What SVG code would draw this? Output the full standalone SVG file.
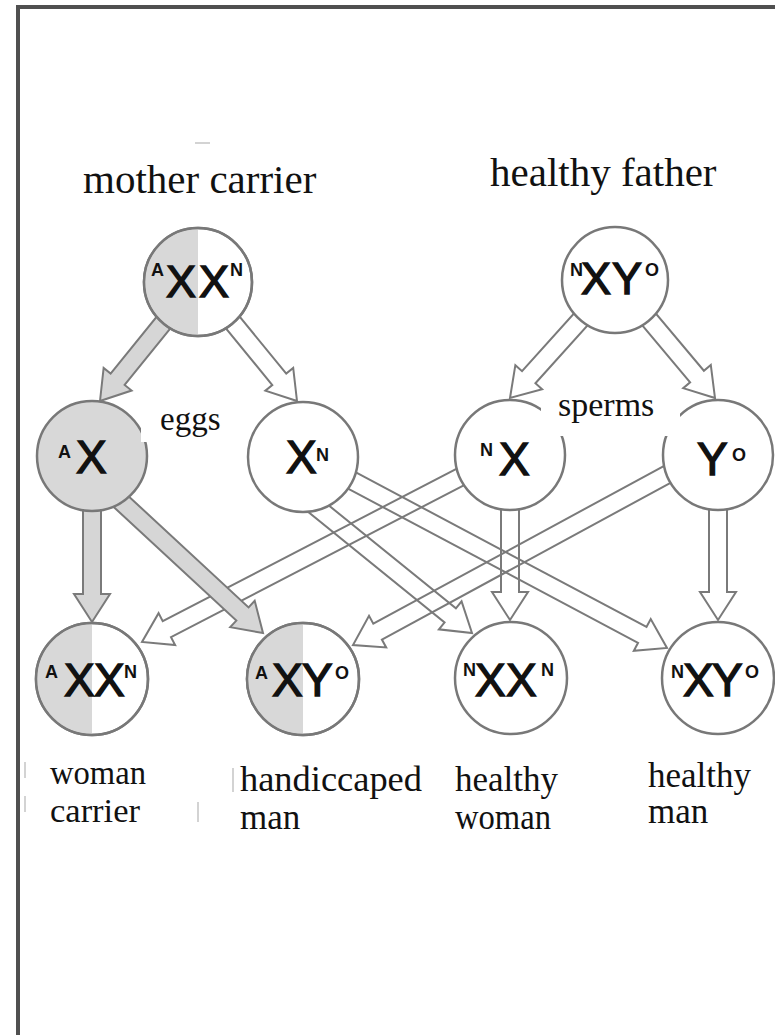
<svg xmlns="http://www.w3.org/2000/svg" width="775" height="1035" viewBox="0 0 775 1035">
<style>
.node{stroke:#787878;stroke-width:2.5;fill:#fff}
.gray{fill:#d8d8d8}
.arw{stroke:#7a7a7a;stroke-width:2;stroke-linejoin:miter;fill:none}
.arwg{stroke:#7a7a7a;stroke-width:2;fill:#d6d6d6}
.big{font-family:"Liberation Sans",Arial,sans-serif;fill:#111;stroke:#111;stroke-width:1.4}
.sup{font-family:"Liberation Sans",Arial,sans-serif;font-weight:bold;font-size:18px;fill:#111}
.lbl{font-family:"Liberation Serif","Times New Roman",serif;fill:#111}
.art{stroke:#c4c4c4;stroke-width:1.5}
</style>
<rect x="0" y="0" width="775" height="1035" fill="#fff"/>
<g id="frame">
<rect x="16" y="5" width="759" height="4" fill="#505050"/>
<rect x="16" y="5" width="4" height="1030" fill="#505050"/>
</g>
<g id="connectors">
<polygon class="arw" transform="translate(297,401) rotate(50.7)" points="-150,-9 -28,-9 -28,-18 0,0 -28,18 -28,9 -150,9"/>
<polygon class="arw" transform="translate(510,398) rotate(132)" points="-150,-9 -28,-9 -28,-18 0,0 -28,18 -28,9 -150,9"/>
<polygon class="arw" transform="translate(715,398) rotate(50)" points="-150,-9 -28,-9 -28,-18 0,0 -28,18 -28,9 -150,9"/>
<polygon class="arw" transform="translate(472,633) rotate(39)" points="-220,-9 -28,-9 -28,-18 0,0 -28,18 -28,9 -220,9"/>
<polygon class="arw" transform="translate(667,648) rotate(28)" points="-380,-9 -28,-9 -28,-18 0,0 -28,18 -28,9 -380,9"/>
<polygon class="arw" transform="translate(142,642) rotate(152.6)" points="-380,-9 -28,-9 -28,-18 0,0 -28,18 -28,9 -380,9"/>
<polygon class="arw" transform="translate(510,620) rotate(90)" points="-160,-9 -28,-9 -28,-18 0,0 -28,18 -28,9 -160,9"/>
<polygon class="arw" transform="translate(353,645) rotate(151.5)" points="-380,-9 -28,-9 -28,-18 0,0 -28,18 -28,9 -380,9"/>
<polygon class="arw" transform="translate(718,620) rotate(90)" points="-160,-9 -28,-9 -28,-18 0,0 -28,18 -28,9 -160,9"/>
<polygon class="arwg" transform="translate(100,401) rotate(129)" points="-150,-9 -28,-9 -28,-18 0,0 -28,18 -28,9 -150,9"/>
<polygon class="arwg" transform="translate(92,622) rotate(90)" points="-160,-9 -28,-9 -28,-18 0,0 -28,18 -28,9 -160,9"/>
<polygon class="arwg" transform="translate(263,633) rotate(42.8)" points="-220,-9 -28,-9 -28,-18 0,0 -28,18 -28,9 -220,9"/>
</g>
<g id="mother">
<circle class="node" cx="198" cy="282" r="54"/>
<path class="gray" d="M198,229 A53,53 0 0 0 198,335 Z"/>
<circle cx="198" cy="282" r="54" fill="none" stroke="#787878" stroke-width="2.5"/>
<text><tspan class="sup" x="151" y="276">A</tspan><tspan class="big" font-size="45" x="166" y="297">X</tspan><tspan class="big" font-size="45" x="199" y="297">X</tspan><tspan class="sup" x="230" y="276">N</tspan></text>
</g>
<g id="father">
<circle class="node" cx="615" cy="280" r="53"/>
<text><tspan class="sup" x="570" y="276">N</tspan><tspan class="big" font-size="45" x="581" y="294">X</tspan><tspan class="big" font-size="45" x="612" y="294">Y</tspan><tspan class="sup" x="645" y="276">O</tspan></text>
</g>
<g id="egg-AX">
<circle class="node" cx="92" cy="456" r="55" style="fill:#d8d8d8"/>
<text><tspan class="sup" x="58" y="458">A</tspan><tspan class="big" font-size="46" x="76" y="473">X</tspan></text>
</g>
<g id="egg-XN">
<circle class="node" cx="303" cy="457" r="55"/>
<text><tspan class="big" font-size="46" x="286" y="473">X</tspan><tspan class="sup" x="316" y="461">N</tspan></text>
</g>
<g id="sperm-NX">
<circle class="node" cx="510" cy="455" r="55"/>
<text><tspan class="sup" x="480" y="456">N</tspan><tspan class="big" font-size="46" x="499" y="475">X</tspan></text>
</g>
<g id="sperm-YO">
<circle class="node" cx="718" cy="455" r="55"/>
<text><tspan class="big" font-size="46" x="697" y="475">Y</tspan><tspan class="sup" x="732" y="461">O</tspan></text>
</g>
<g id="child-AXXN">
<circle class="node" cx="92" cy="679" r="56"/>
<path class="gray" d="M92,624 A55,55 0 0 0 92,734 Z"/>
<circle cx="92" cy="679" r="56" fill="none" stroke="#787878" stroke-width="2.5"/>
<text><tspan class="sup" x="45" y="678">A</tspan><tspan class="big" font-size="46" x="64" y="696">X</tspan><tspan class="big" font-size="46" x="94" y="696">X</tspan><tspan class="sup" x="124" y="678">N</tspan></text>
</g>
<g id="child-AXYO">
<circle class="node" cx="303" cy="679" r="56"/>
<path class="gray" d="M303,624 A55,55 0 0 0 303,734 Z"/>
<circle cx="303" cy="679" r="56" fill="none" stroke="#787878" stroke-width="2.5"/>
<text><tspan class="sup" x="255" y="679">A</tspan><tspan class="big" font-size="46" x="272" y="696">X</tspan><tspan class="big" font-size="46" x="302" y="696">Y</tspan><tspan class="sup" x="335" y="679">O</tspan></text>
</g>
<g id="child-NXXN">
<circle class="node" cx="511" cy="678" r="56"/>
<text><tspan class="sup" x="463" y="676">N</tspan><tspan class="big" font-size="46" x="475" y="696">X</tspan><tspan class="big" font-size="46" x="506" y="696">X</tspan><tspan class="sup" x="541" y="676">N</tspan></text>
</g>
<g id="child-NXYO">
<circle class="node" cx="718" cy="678" r="56"/>
<text><tspan class="sup" x="671" y="678">N</tspan><tspan class="big" font-size="46" x="683" y="696">X</tspan><tspan class="big" font-size="46" x="712" y="696">Y</tspan><tspan class="sup" x="745" y="678">O</tspan></text>
</g>
<g id="labels">
<rect x="141" y="385" width="87" height="57" fill="#fff"/>
<rect x="541" y="392" width="139" height="44" fill="#fff"/>
<text class="lbl" font-size="41" x="83" y="193">mother carrier</text>
<text class="lbl" font-size="41" x="490" y="186">healthy father</text>
<text class="lbl" font-size="33" x="160" y="430">eggs</text>
<text class="lbl" font-size="34" x="558" y="416">sperms</text>
<text class="lbl" font-size="34" x="50" y="784" textLength="96" lengthAdjust="spacingAndGlyphs">woman</text>
<text class="lbl" font-size="34" x="50" y="822" textLength="90" lengthAdjust="spacingAndGlyphs">carrier</text>
<text class="lbl" font-size="35" x="240" y="791" textLength="182" lengthAdjust="spacingAndGlyphs">handiccaped</text>
<text class="lbl" font-size="35" x="240" y="829">man</text>
<text class="lbl" font-size="35" x="455" y="791">healthy</text>
<text class="lbl" font-size="35" x="455" y="829" textLength="96" lengthAdjust="spacingAndGlyphs">woman</text>
<text class="lbl" font-size="35" x="648" y="787">healthy</text>
<text class="lbl" font-size="35" x="648" y="823">man</text>
<line class="art" x1="195" y1="143" x2="210" y2="143"/>
<line class="art" x1="25" y1="762" x2="25" y2="778"/>
<line class="art" x1="25" y1="796" x2="25" y2="812"/>
<line class="art" x1="233" y1="768" x2="233" y2="792"/>
<line class="art" x1="198" y1="802" x2="198" y2="822"/>
</g>
</svg>
